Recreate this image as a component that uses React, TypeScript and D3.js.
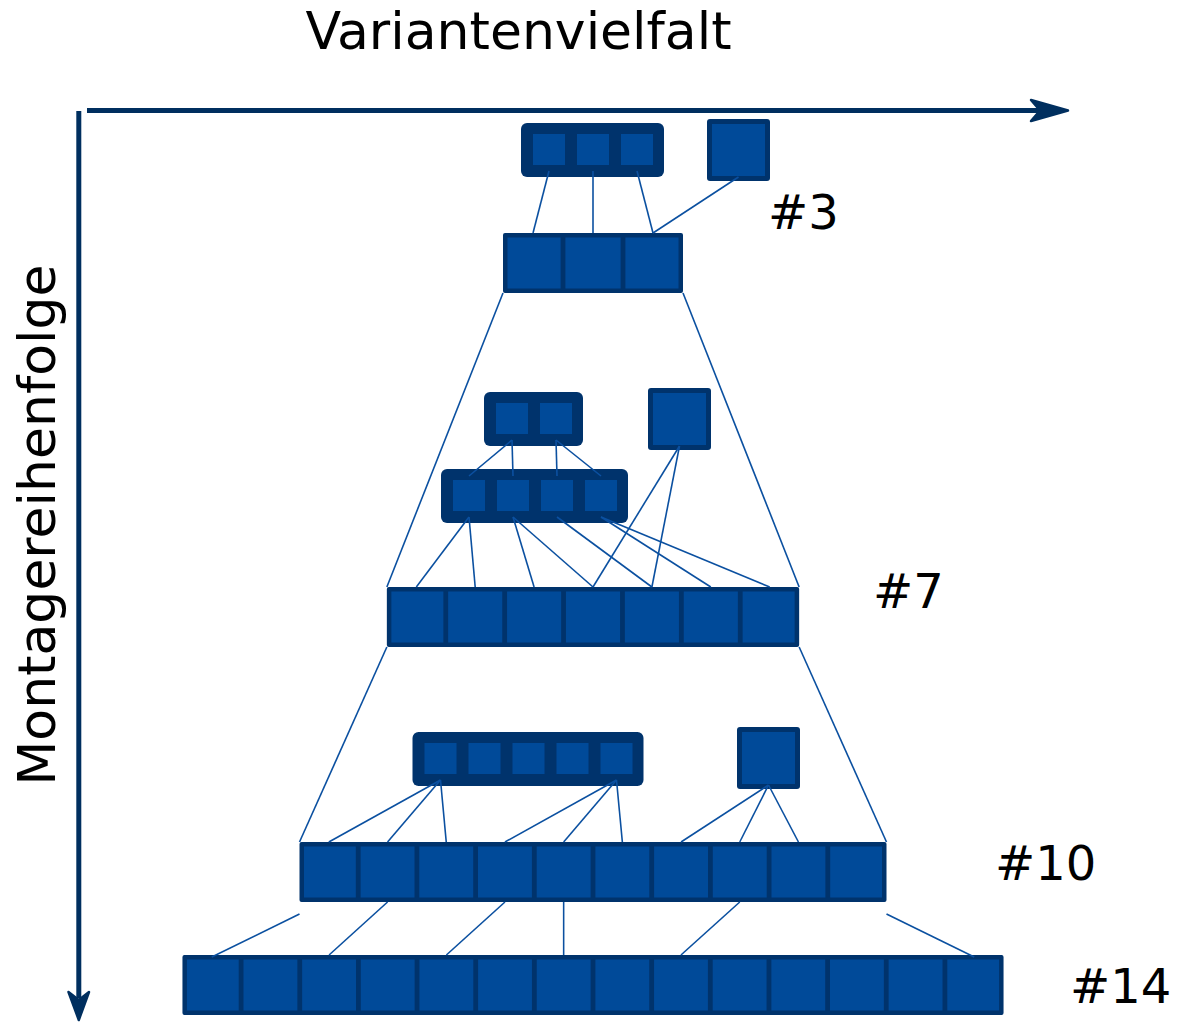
import React from 'react';
import * as d3 from 'd3';

// cells in each main assembly row
const rowSizes = [3, 7, 10, 14];
const rowLabels = ['#3', '#7', '#10', '#14'];
// sub-assembly boxes feeding each stage (cells per rounded box)
const groupSizes = [[3], [2, 4], [5]];
// [stage, group, groupCell, rowCell]
const groupLinks = [
  [0, 0, 0, 0], [0, 0, 1, 1], [0, 0, 2, 2],
  [1, 1, 0, 0], [1, 1, 0, 1], [1, 1, 1, 2], [1, 1, 1, 3], [1, 1, 2, 4], [1, 1, 3, 5], [1, 1, 3, 6],
  [2, 0, 0, 0], [2, 0, 0, 1], [2, 0, 0, 2], [2, 0, 4, 3], [2, 0, 4, 4], [2, 0, 4, 5],
];
// stage 1: small box cell -> big box cell
const innerLinks = [[0, 0], [0, 1], [1, 2], [1, 3]];
// [stage, rowCell] for the single part of each stage
const singleLinks = [[0, 2], [1, 3], [1, 4], [2, 6], [2, 7], [2, 8]];
// last stage: row 3 cell -> row 4 cell
const rowLinks = [[1, 2], [3, 4], [4, 6], [7, 8]];
const edgeLinks: [string, number][] = [['left', 0], ['right', 13]];

// layout
const W = 1178, H = 1023;
const CX = 593;
const rowTop = [233, 587, 842, 955];
const rowH = 60;
const rowCellW = [60, 58.9, 58.7, 58.65];
const groupPos = [[[521, 123]], [[484, 392], [441, 469]], [[412.5, 732]]];
const singlePos = [[707, 119], [648, 388], [737, 727]];
const labelPos = [[768, 229], [873, 608], [995, 880], [1070, 1003]];
const PITCH = 44;

const DARK = '#00336c';
const FILL = '#004a99';
const AXIS = '#002f5f';
const LINK = '#0b50a0';
const FONT = 'DejaVu Sans, Verdana, sans-serif';

export default function App() {
  const rowScales = rowSizes.map((n, i) =>
    d3.scaleBand<number>().domain(d3.range(n)).range([CX - (n * rowCellW[i]) / 2, CX + (n * rowCellW[i]) / 2])
  );
  const groupScales = groupSizes.map((gs, s) =>
    gs.map((n, g) => {
      const gx = groupPos[s][g][0];
      return d3.scaleBand<number>().domain(d3.range(n)).range([gx + 6, gx + 6 + n * PITCH]);
    })
  );
  const rowMid = (r: number, c: number) => (rowScales[r](c) as number) + rowScales[r].bandwidth() / 2;
  const grpMid = (s: number, g: number, c: number) => (groupScales[s][g](c) as number) + 22;

  const lines: { x1: number; y1: number; x2: number; y2: number }[] = [];
  groupLinks.forEach(([s, g, gc, rc]) => {
    lines.push({ x1: grpMid(s, g, gc), y1: groupPos[s][g][1] + 48, x2: rowMid(s, rc), y2: rowTop[s] });
  });
  innerLinks.forEach(([a, b]) => {
    lines.push({ x1: grpMid(1, 0, a), y1: groupPos[1][0][1] + 48, x2: grpMid(1, 1, b), y2: groupPos[1][1][1] + 7 });
  });
  singleLinks.forEach(([s, rc]) => {
    lines.push({ x1: singlePos[s][0] + 31.5, y1: singlePos[s][1] + 58, x2: rowMid(s, rc), y2: rowTop[s] });
  });
  rowLinks.forEach(([a, b]) => {
    lines.push({ x1: rowMid(2, a), y1: rowTop[2] + rowH, x2: rowMid(3, b), y2: rowTop[3] });
  });
  edgeLinks.forEach(([side, b]) => {
    const [lo, hi] = rowScales[2].range();
    lines.push({ x1: side === 'left' ? lo : hi, y1: rowTop[2] + rowH + 12, x2: rowMid(3, b), y2: rowTop[3] + 2 });
  });
  // trapezoid sides between rows
  [0, 1].forEach((r) => {
    const [a0, a1] = rowScales[r].range();
    const [b0, b1] = rowScales[r + 1].range();
    lines.push({ x1: a0, y1: rowTop[r] + rowH, x2: b0, y2: rowTop[r + 1] });
    lines.push({ x1: a1, y1: rowTop[r] + rowH, x2: b1, y2: rowTop[r + 1] });
  });

  return (
    <svg width={W} height={H} style={{ position: 'absolute', left: 0, top: 0, background: '#fff' }}>
      {/* axes */}
      <line x1={87} y1={110.5} x2={1045} y2={110.5} stroke={AXIS} strokeWidth={5} />
      <path d="M1068,110.5 L1031,100 L1040,110.5 L1031,121 Z" fill={AXIS} stroke={AXIS} strokeWidth={2.5} strokeLinejoin="round" />
      <line x1={78.8} y1={111} x2={78.8} y2={998} stroke={AXIS} strokeWidth={5} />
      <path d="M78.8,1020 L68.5,992 L78.8,1000 L89,992 Z" fill={AXIS} stroke={AXIS} strokeWidth={2.5} strokeLinejoin="round" />
      <text x={518.5} y={49} fontSize={52} fontFamily={FONT} textAnchor="middle" fill="#000">Variantenvielfalt</text>
      <text transform="translate(55,525) rotate(-90)" fontSize={52} fontFamily={FONT} textAnchor="middle" fill="#000">Montagereihenfolge</text>

      {/* main rows */}
      {rowSizes.map((n, r) => {
        const sc = rowScales[r];
        const [x0, x1] = sc.range();
        const bw = sc.bandwidth();
        return (
          <g key={r}>
            <rect x={x0} y={rowTop[r]} width={x1 - x0} height={rowH} fill={DARK} rx={2} />
            {d3.range(n).map((c) => {
              const l = c === 0 ? 4.5 : 2.4;
              const rr = c === n - 1 ? 4.5 : 2.4;
              return <rect key={c} x={(sc(c) as number) + l} y={rowTop[r] + 4.5} width={bw - l - rr} height={rowH - 9} fill={FILL} />;
            })}
            <text x={labelPos[r][0]} y={labelPos[r][1]} fontSize={48} fontFamily={FONT} fill="#000">{rowLabels[r]}</text>
          </g>
        );
      })}

      {/* sub-assembly boxes */}
      {groupSizes.map((gs, s) =>
        gs.map((n, g) => {
          const [gx, gy] = groupPos[s][g];
          const sc = groupScales[s][g];
          return (
            <g key={`${s}-${g}`}>
              <rect x={gx} y={gy} width={n * PITCH + 11} height={54} rx={6} fill={DARK} />
              {d3.range(n).map((c) => (
                <rect key={c} x={(sc(c) as number) + 6} y={gy + 11} width={32} height={31} fill={FILL} />
              ))}
            </g>
          );
        })
      )}

      {/* single parts */}
      {singlePos.map(([x, y], i) => (
        <g key={i}>
          <rect x={x} y={y} width={63} height={62} rx={3} fill={DARK} />
          <rect x={x + 5} y={y + 5} width={53} height={52} fill={FILL} />
        </g>
      ))}

      {/* connections drawn over the boxes */}
      {lines.map((l, i) => (
        <line key={i} {...l} stroke={LINK} strokeWidth={1.6} />
      ))}
    </svg>
  );
}
